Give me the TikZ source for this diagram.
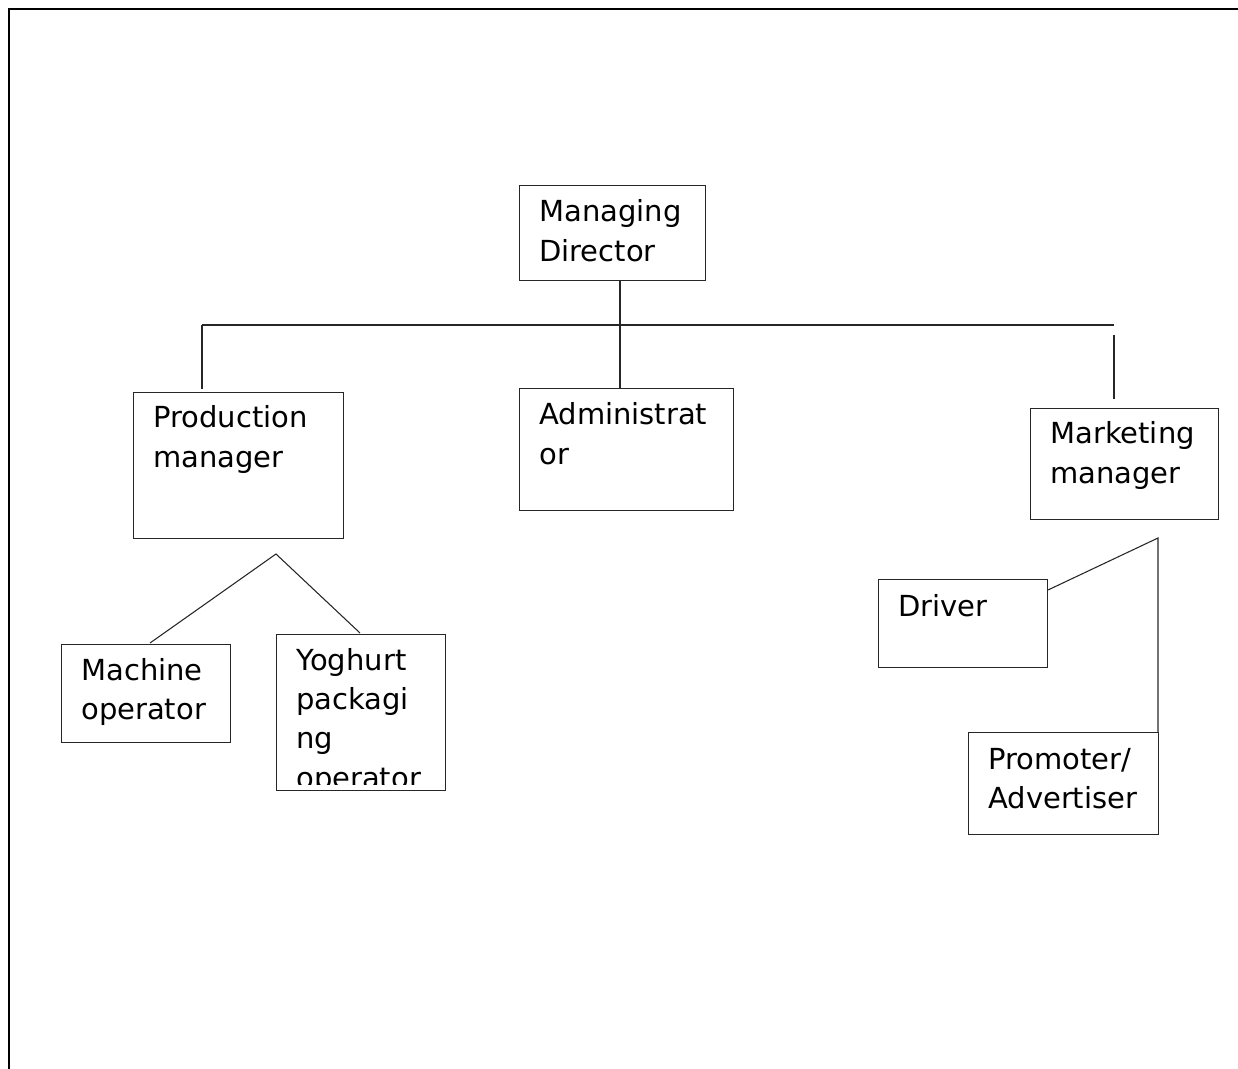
\documentclass[tikz,border=0pt]{standalone}
\usepackage{fontspec}
\setmainfont{DejaVu Sans}
\usetikzlibrary{calc}
\begin{document}
\begin{tikzpicture}[x=0.75pt,y=-0.75pt,
  box/.style={draw=black!85,line width=0.8pt,rectangle,inner sep=0pt,anchor=north west},
  txt/.style={inner sep=0pt,anchor=base west,font=\fontsize{21.75}{29.5}\selectfont},
  conn/.style={draw=black!85,line width=0.8pt},
  frame/.style={draw=black,line width=1.1pt}]
\useasboundingbox (0,0) rectangle (1238,1069);
\draw[frame] (9,1069) -- (9,9) -- (1238,9);
% boxes
\node[box,minimum width=186*0.75pt,minimum height=95*0.75pt] (md) at (519,185) {};
\node[box,minimum width=210*0.75pt,minimum height=146*0.75pt] (pm) at (133,392) {};
\node[box,minimum width=214*0.75pt,minimum height=122*0.75pt] (ad) at (519,388) {};
\node[box,minimum width=188*0.75pt,minimum height=111*0.75pt] (mm) at (1030,408) {};
\node[box,minimum width=169*0.75pt,minimum height=98*0.75pt] (mo) at (61,644) {};
\node[box,minimum width=169*0.75pt,minimum height=156*0.75pt] (yp) at (276,634) {};
\node[box,minimum width=169*0.75pt,minimum height=88*0.75pt] (dr) at (878,579) {};
\node[box,minimum width=190*0.75pt,minimum height=102*0.75pt] (pa) at (968,732) {};
% texts
\newcommand{\lines}[1]{\begin{tabular}[t]{@{}l@{}}#1\end{tabular}}
\node[txt] (mdt) at ($(md.north west)+(20,37)$) {\lines{Managing\\Director}};
\node[txt] (pmt) at ($(pm.north west)+(20,36)$) {\lines{Production\\manager}};
\node[txt] (adt) at ($(ad.north west)+(20,37)$) {\lines{Administrat\\or}};
\node[txt] (mmt) at ($(mm.north west)+(20,36)$) {\lines{Marketing\\manager}};
\node[txt] (mot) at ($(mo.north west)+(20,36)$) {\lines{Machine\\operator}};
\begin{scope}
\clip ($(yp.north west)+(0,0)$) rectangle ($(yp.south east)+(0,-7)$);
\node[txt] (ypt) at ($(yp.north west)+(20,36)$) {\lines{Yoghurt\\packagi\\ng\\operator}};
\end{scope}
\node[txt] (drt) at ($(dr.north west)+(20,37)$) {\lines{Driver}};
\node[txt] (pat) at ($(pa.north west)+(20,37)$) {\lines{Promoter/\\Advertiser}};
% connector coordinates
\coordinate (mdb) at (620,280);
\coordinate (adtop) at (620,388);
\coordinate (hl) at (202,325);
\coordinate (hr) at (1114,325);
\coordinate (pmtop) at (202,389);
\coordinate (mmup) at (1114,335);
\coordinate (mmtop) at (1114,399);
\coordinate (apex) at (276,554);
\coordinate (mot1) at (150,643);
\coordinate (ypt1) at (360,633);
\coordinate (drr) at (1048,590);
\coordinate (mk) at (1158,538);
\coordinate (pat1) at (1158,732);
% connectors
\draw[conn] (mdb) -- (adtop);
\draw[conn] (hl) -- (hr);
\draw[conn] (hl) -- (pmtop);
\draw[conn] (mmup) -- (mmtop);
\draw[conn] (mot1) -- (apex) -- (ypt1);
\draw[conn] (drr) -- (mk) -- (pat1);
\end{tikzpicture}
\end{document}
